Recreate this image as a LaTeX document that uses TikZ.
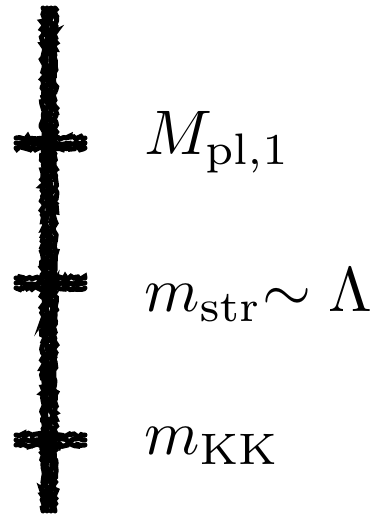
\documentclass[tikz,border=0pt]{standalone}
\usetikzlibrary{calc, decorations.pathmorphing}
\tikzset{
  chalk/.style={line width=5pt, line cap=round, decorate,
    decoration={random steps, segment length=2.5pt, amplitude=1.8pt}},
  scalelabel/.style={anchor=base west, inner sep=0pt, scale=6.3, transform shape}
}
\begin{document}
\begin{tikzpicture}[x=1pt, y=1pt]
    \useasboundingbox (0,0) rectangle (375,517);
    % Energy axis
    \coordinate (top) at (49,509);
    \coordinate (bottom) at (49,6);
    \foreach \dx in {-6,-2,2,6} {
        \draw[chalk] ($(top)+(\dx,0)$) -- ($(bottom)+(\dx,0)$);
    }
    
    % Tick marks
    \foreach \y/\name in {374/pl, 234/str, 77/kk} {
        \coordinate (tick-\name) at (49,\y);
        \foreach \dy in {-5,0,5} {
            \draw[chalk] ($(tick-\name)+(-33,\dy)$) -- ($(tick-\name)+(36,\dy)$);
        }
    }
    
    % Scales
    \node[scalelabel] (mpl) at (143,362) {$M_{\mathrm{pl},1}$};
    \node[scalelabel] (mstr) at (143,205) {$m_{\mathrm{str}}{\sim}\;\Lambda$};
    \node[scalelabel] (mkk) at (143,62) {$m_{\mathrm{KK}}$};
\end{tikzpicture}
\end{document}
